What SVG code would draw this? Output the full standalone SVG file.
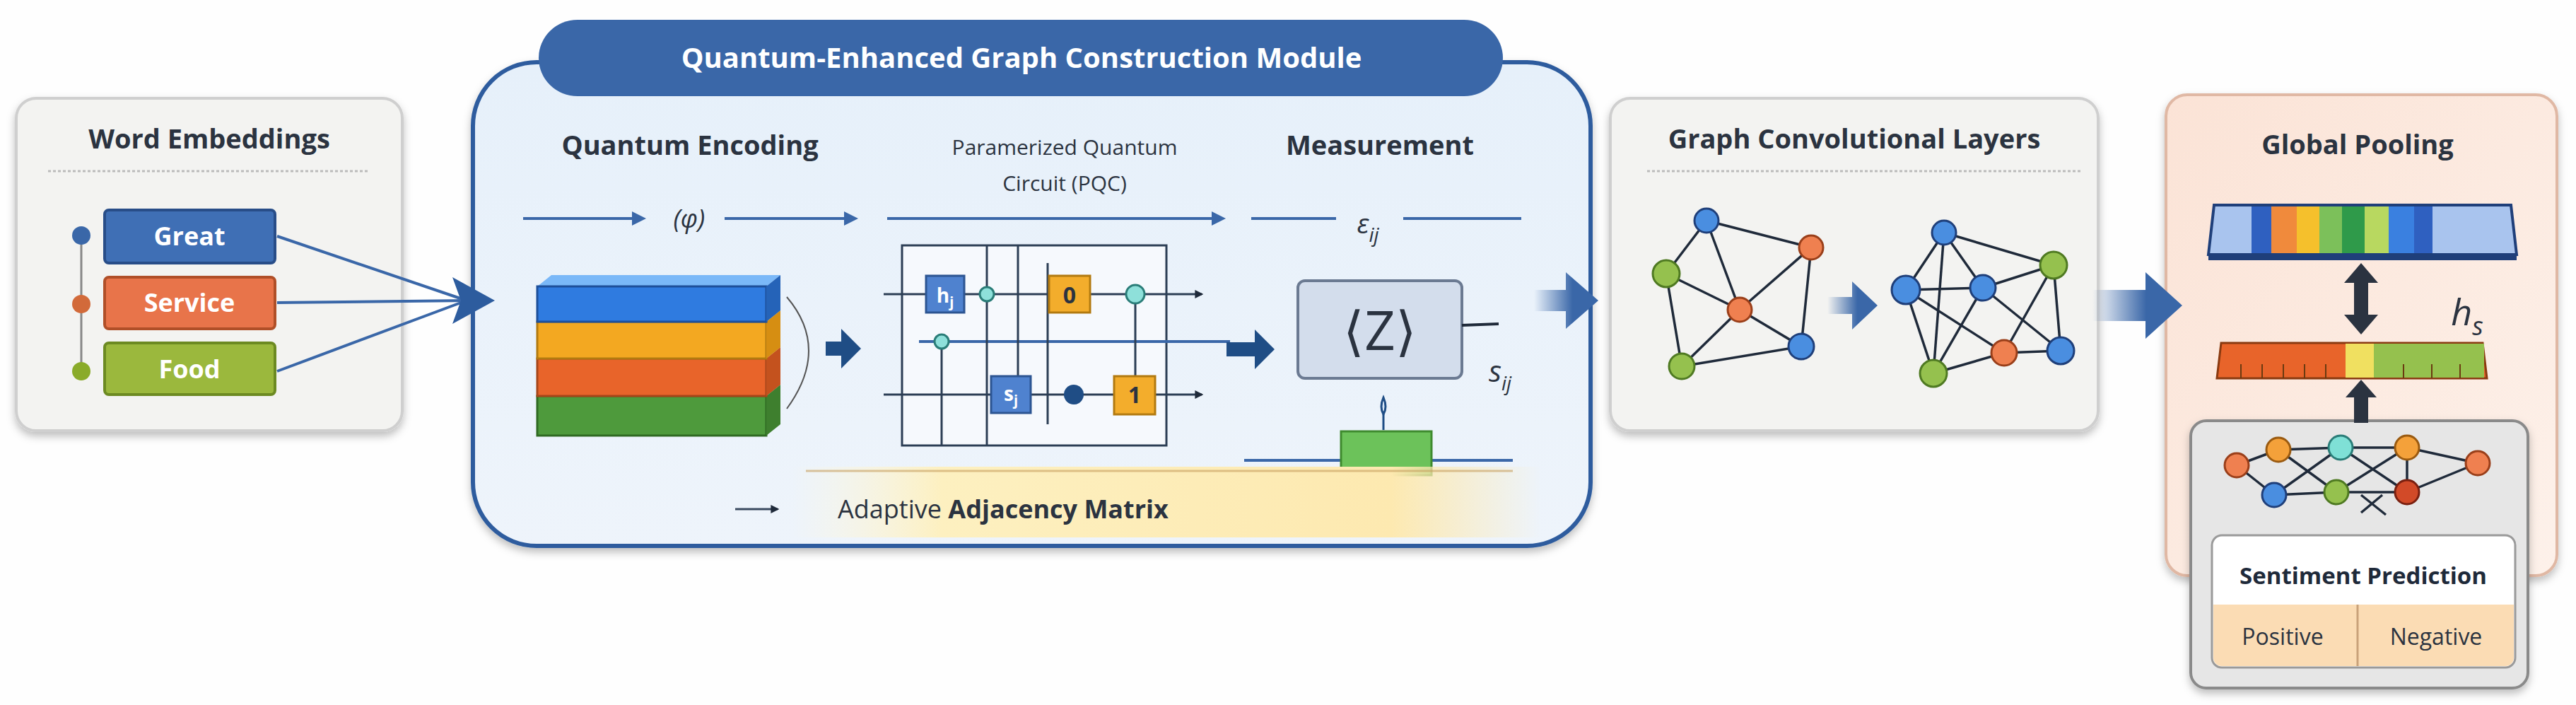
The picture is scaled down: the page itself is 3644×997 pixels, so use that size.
<svg xmlns="http://www.w3.org/2000/svg" width="3644" height="997" viewBox="0 0 3644 997">
<defs>
<style>
text{font-family:"Open Sans","Liberation Sans",sans-serif;}
.h{font-weight:bold;fill:#2b3340;font-size:38px;text-anchor:middle}
.w{font-weight:bold;fill:#fff;font-size:36px;text-anchor:middle}
.ln{stroke:#3a67a8;stroke-width:4;fill:none}
.wire{stroke:#2c3e55;stroke-width:3;fill:none}
.e{stroke:#1f2a3a;stroke-width:3.5}
.nb{fill:#4a8ee0;stroke:#1f3f7a;stroke-width:3}
.no{fill:#ef8050;stroke:#9a3f1a;stroke-width:3}
.ng{fill:#95c14e;stroke:#4f7a22;stroke-width:3}
.nt{fill:#7fe0d6;stroke:#2a7d78;stroke-width:3}
.nr{fill:#d24a28;stroke:#7a2010;stroke-width:3}
.nor{fill:#f4a13a;stroke:#9a5a10;stroke-width:3}
</style>
<marker id="ah" viewBox="0 0 10 10" refX="8" refY="5" markerWidth="5" markerHeight="5" orient="auto"><path d="M0,0L10,5L0,10z" fill="#3a67a8"/></marker>
<marker id="ahd" viewBox="0 0 10 10" refX="8" refY="5" markerWidth="4" markerHeight="4" orient="auto"><path d="M0,0L10,5L0,10z" fill="#1f2a3a"/></marker>
<linearGradient id="bigArrow" x1="0" x2="1"><stop offset="0" stop-color="#3a67a8" stop-opacity="0"/><stop offset="0.6" stop-color="#3a67a8"/></linearGradient>
<linearGradient id="modBg" x1="0" y1="0" x2="0" y2="1"><stop offset="0" stop-color="#e6f0fa"/><stop offset="1" stop-color="#eef4fb"/></linearGradient>
<linearGradient id="peach" x1="0" y1="0" x2="1" y2="1"><stop offset="0" stop-color="#fbe3d6"/><stop offset="1" stop-color="#fdf1ea"/></linearGradient>
<linearGradient id="yel" x1="0" x2="1"><stop offset="0" stop-color="#fff8dc" stop-opacity="0"/><stop offset="0.2" stop-color="#fdf0c0"/><stop offset="0.8" stop-color="#fde9b0"/><stop offset="1" stop-color="#fde9b0" stop-opacity="0"/></linearGradient>
<filter id="sh" x="-5%" y="-5%" width="110%" height="115%"><feDropShadow dx="0" dy="6" stdDeviation="6" flood-color="#000" flood-opacity="0.25"/></filter>
</defs>
<rect width="3644" height="997" fill="#fefefe"/>

<g id="word-embeddings">
<rect x="23" y="139" width="546" height="470" rx="28" fill="#f3f3f1" stroke="#cfcfcf" stroke-width="4" filter="url(#sh)"/>
<text class="h" x="296" y="210">Word Embeddings</text>
<line x1="68" y1="242" x2="522" y2="242" stroke="#bbb" stroke-width="3" stroke-dasharray="4 3"/>
<line x1="115" y1="333" x2="115" y2="525" stroke="#888" stroke-width="3"/>
<circle cx="115" cy="333" r="13" fill="#3a67a8"/>
<circle cx="115" cy="430" r="13" fill="#d26a3a"/>
<circle cx="115" cy="525" r="13" fill="#8aab2a"/>
<rect x="148" y="297" width="241" height="75" rx="6" fill="#3f6fb5" stroke="#284d88" stroke-width="4"/>
<text class="w" x="268" y="347">Great</text>
<rect x="148" y="392" width="241" height="73" rx="6" fill="#e8744a" stroke="#b04f28" stroke-width="4"/>
<text class="w" x="268" y="441">Service</text>
<rect x="148" y="485" width="241" height="73" rx="6" fill="#9bb83d" stroke="#6c8a22" stroke-width="4"/>
<text class="w" x="268" y="535">Food</text>
</g>

<g id="quantum-module">
<rect x="669" y="88" width="1581" height="684" rx="90" fill="url(#modBg)" stroke="#2d5c9e" stroke-width="6" filter="url(#sh)"/>
<rect x="762" y="28" width="1364" height="108" rx="55" fill="#3a67a8"/>
<text x="1445" y="96" font-size="40" font-weight="bold" fill="#fff" text-anchor="middle">Quantum-Enhanced Graph Construction Module</text>
<text class="h" x="976" y="219" font-size="36">Quantum Encoding</text>
<text x="1506" y="219" font-size="30" fill="#2b3340" text-anchor="middle">Paramerized Quantum</text>
<text x="1506" y="270" font-size="30" fill="#2b3340" text-anchor="middle">Circuit (PQC)</text>
<text class="h" x="1952" y="219" font-size="36">Measurement</text>
<line class="ln" x1="740" y1="309" x2="910" y2="309" marker-end="url(#ah)"/>
<text x="975" y="322" font-size="36" font-style="italic" fill="#2b3340" text-anchor="middle">(φ)</text>
<line class="ln" x1="1025" y1="309" x2="1210" y2="309" marker-end="url(#ah)"/>
<line class="ln" x1="1255" y1="309" x2="1730" y2="309" marker-end="url(#ah)"/>
<line class="ln" x1="1770" y1="309" x2="1890" y2="309"/>
<text x="1935" y="330" font-size="38" font-style="italic" fill="#2b3340" text-anchor="middle">ε<tspan font-size="28" dy="12">ij</tspan></text>
<line class="ln" x1="1985" y1="309" x2="2152" y2="309"/>
<g stroke-width="3">
<path d="M760,560l20,-16h324l-20,16z" fill="#8ccf6a"/><rect x="760" y="560" width="324" height="56" fill="#4e9a3c" stroke="#2f6a22"/><path d="M1084,560l20,-16v56l-20,16z" fill="#3e7f2e"/>
<path d="M760,507l20,-16h324l-20,16z" fill="#f7a070"/><rect x="760" y="507" width="324" height="53" fill="#e8642a" stroke="#a6461a"/><path d="M1084,507l20,-16v53l-20,16z" fill="#c4521e"/>
<path d="M760,455l20,-16h324l-20,16z" fill="#ffd070"/><rect x="760" y="455" width="324" height="52" fill="#f3a821" stroke="#b27a10"/><path d="M1084,455l20,-16v52l-20,16z" fill="#d68e12"/>
<path d="M760,405l20,-16h324l-20,16z" fill="#7ab8f8"/><rect x="760" y="405" width="324" height="50" fill="#2f7be0" stroke="#1d4f9a"/><path d="M1084,405l20,-16v50l-20,16z" fill="#2563b8"/>
</g>
<path d="M1113,420 Q1175,493 1113,578" fill="none" stroke="#555" stroke-width="2"/>
<rect x="1276" y="347" width="374" height="283" fill="#f6f9fd" stroke="#2c3e55" stroke-width="3"/>
<line class="wire" x1="1250" y1="416" x2="1700" y2="416" marker-end="url(#ahd)"/>
<line x1="1300" y1="483" x2="1740" y2="483" stroke="#3a67a8" stroke-width="4"/>
<line class="wire" x1="1250" y1="558" x2="1700" y2="558" marker-end="url(#ahd)"/>
<line class="wire" x1="1332" y1="483" x2="1332" y2="630"/>
<line class="wire" x1="1396" y1="347" x2="1396" y2="630"/>
<line class="wire" x1="1440" y1="347" x2="1440" y2="548"/>
<line class="wire" x1="1482" y1="372" x2="1482" y2="600"/>
<line class="wire" x1="1606" y1="416" x2="1606" y2="540"/>
<rect x="1310" y="390" width="54" height="52" fill="#4f82cf" stroke="#2c5592" stroke-width="3"/>
<text x="1337" y="428" font-size="28" fill="#fff" font-weight="bold" text-anchor="middle">h<tspan font-size="20" dy="6">j</tspan></text>
<circle cx="1396" cy="416" r="10" fill="#8ee0da" stroke="#2a7d78" stroke-width="3"/>
<circle cx="1332" cy="483" r="10" fill="#8ee0da" stroke="#2a7d78" stroke-width="3"/>
<circle cx="1606" cy="416" r="13" fill="#8ee0da" stroke="#2a7d78" stroke-width="3"/>
<rect x="1484" y="390" width="58" height="52" fill="#f3ad2c" stroke="#b27a10" stroke-width="3"/>
<text x="1513" y="429" font-size="32" font-weight="bold" fill="#2b3340" text-anchor="middle">0</text>
<rect x="1402" y="532" width="56" height="52" fill="#4f82cf" stroke="#2c5592" stroke-width="3"/>
<text x="1430" y="567" font-size="28" fill="#fff" font-weight="bold" text-anchor="middle">s<tspan font-size="20" dy="6">j</tspan></text>
<circle cx="1519" cy="558" r="14" fill="#1f4d85"/>
<rect x="1576" y="532" width="58" height="54" fill="#f3ad2c" stroke="#b27a10" stroke-width="3"/>
<text x="1605" y="570" font-size="32" font-weight="bold" fill="#2b3340" text-anchor="middle">1</text>
<rect x="1836" y="397" width="232" height="138" rx="10" fill="#d3ddec" stroke="#6b7a92" stroke-width="4"/>
<text x="1952" y="495" font-size="76" fill="#2b3340" text-anchor="middle">⟨Z⟩</text>
<line x1="2068" y1="460" x2="2120" y2="458" stroke="#1f2a3a" stroke-width="4"/>
<text x="2122" y="540" font-size="42" font-style="italic" fill="#2b3340" text-anchor="middle">s<tspan font-size="28" dy="12">ij</tspan></text>
<path d="M1957,562 q-6,14 0,24 q6,-10 0,-24z" fill="#d8e6f6" stroke="#1f4d85" stroke-width="3"/>
<line x1="1957" y1="586" x2="1957" y2="608" stroke="#1f4d85" stroke-width="3"/>
<line x1="1760" y1="651" x2="2140" y2="651" stroke="#3a67a8" stroke-width="4"/>
<rect x="1897" y="610" width="128" height="62" fill="#6cc25a" stroke="#3e8a2e" stroke-width="3"/>
<rect x="1120" y="660" width="1060" height="100" fill="url(#yel)"/>
<line x1="1140" y1="666" x2="2140" y2="666" stroke="#c8a060" stroke-width="3" opacity="0.6"/>
<line x1="1040" y1="720" x2="1100" y2="720" stroke="#3a4a60" stroke-width="3" marker-end="url(#ahd)"/>
<text x="1185" y="733" font-size="36" fill="#2b3340">Adaptive <tspan font-weight="bold">Adjacency Matrix</tspan></text>
</g>

<g id="graph-conv-layers">
<rect x="2278" y="139" width="690" height="470" rx="28" fill="#f3f3f1" stroke="#cfcfcf" stroke-width="4" filter="url(#sh)"/>
<text class="h" x="2623" y="210">Graph Convolutional Layers</text>
<line x1="2330" y1="242" x2="2946" y2="242" stroke="#bbb" stroke-width="3" stroke-dasharray="4 3"/>
<g class="e">
<line x1="2414" y1="312" x2="2562" y2="350"/><line x1="2414" y1="312" x2="2357" y2="387"/><line x1="2414" y1="312" x2="2461" y2="438"/>
<line x1="2562" y1="350" x2="2461" y2="438"/><line x1="2562" y1="350" x2="2548" y2="490"/><line x1="2357" y1="387" x2="2461" y2="438"/>
<line x1="2357" y1="387" x2="2379" y2="518"/><line x1="2461" y1="438" x2="2548" y2="490"/><line x1="2461" y1="438" x2="2379" y2="518"/><line x1="2379" y1="518" x2="2548" y2="490"/>
</g>
<circle class="nb" cx="2414" cy="312" r="17"/><circle class="no" cx="2562" cy="350" r="17"/><circle class="ng" cx="2357" cy="387" r="19"/>
<circle class="no" cx="2461" cy="438" r="17"/><circle class="nb" cx="2548" cy="490" r="18"/><circle class="ng" cx="2379" cy="518" r="18"/>
<g class="e">
<line x1="2750" y1="329" x2="2905" y2="375"/><line x1="2750" y1="329" x2="2696" y2="410"/><line x1="2750" y1="329" x2="2805" y2="407"/><line x1="2750" y1="329" x2="2735" y2="528"/>
<line x1="2905" y1="375" x2="2805" y2="407"/><line x1="2905" y1="375" x2="2835" y2="499"/><line x1="2905" y1="375" x2="2915" y2="496"/>
<line x1="2696" y1="410" x2="2805" y2="407"/><line x1="2696" y1="410" x2="2835" y2="499"/><line x1="2696" y1="410" x2="2735" y2="528"/>
<line x1="2805" y1="407" x2="2735" y2="528"/><line x1="2805" y1="407" x2="2915" y2="496"/><line x1="2835" y1="499" x2="2915" y2="496"/><line x1="2735" y1="528" x2="2835" y2="499"/>
</g>
<circle class="nb" cx="2750" cy="329" r="17"/><circle class="ng" cx="2905" cy="375" r="19"/><circle class="nb" cx="2696" cy="410" r="20"/>
<circle class="nb" cx="2805" cy="407" r="18"/><circle class="no" cx="2835" cy="499" r="18"/><circle class="nb" cx="2915" cy="496" r="19"/><circle class="ng" cx="2735" cy="528" r="19"/>
</g>

<g id="global-pooling">
<rect x="3064" y="134" width="553" height="680" rx="30" fill="url(#peach)" stroke="#e0b8a4" stroke-width="4" filter="url(#sh)"/>
<text class="h" x="3335" y="218">Global Pooling</text>
<path d="M3132,290h420l8,70h-436z" fill="#a9c4ee" stroke="#1f3f7a" stroke-width="4"/>
<rect x="3185" y="292" width="28" height="66" fill="#2f60c0"/><rect x="3213" y="292" width="36" height="66" fill="#f08a3c"/>
<rect x="3249" y="292" width="32" height="66" fill="#f5c02c"/><rect x="3281" y="292" width="32" height="66" fill="#7cc05a"/>
<rect x="3313" y="292" width="32" height="66" fill="#2f9a4a"/><rect x="3345" y="292" width="34" height="66" fill="#b8d860"/>
<rect x="3379" y="292" width="36" height="66" fill="#3a80e0"/><rect x="3415" y="292" width="26" height="66" fill="#2f60c0"/>
<rect x="3124" y="358" width="436" height="10" fill="#1f3f7a"/>
<text x="3490" y="460" font-size="52" font-style="italic" fill="#2b3340" text-anchor="middle">h<tspan font-size="36" dy="14">s</tspan></text>
<path d="M3142,485h370l6,50h-382z" fill="#e8642a" stroke="#8a3a10" stroke-width="3"/>
<rect x="3318" y="486" width="40" height="48" fill="#f0e060"/><rect x="3358" y="486" width="156" height="48" fill="#95c14e"/>
<g stroke="#6a3a10" stroke-width="2"><line x1="3170" y1="515" x2="3170" y2="535"/><line x1="3200" y1="515" x2="3200" y2="535"/><line x1="3230" y1="515" x2="3230" y2="535"/><line x1="3260" y1="515" x2="3260" y2="535"/><line x1="3290" y1="515" x2="3290" y2="535"/><line x1="3400" y1="515" x2="3400" y2="535"/><line x1="3440" y1="515" x2="3440" y2="535"/><line x1="3480" y1="515" x2="3480" y2="535"/></g>
<rect x="3099" y="595" width="477" height="378" rx="22" fill="#e6e6e6" stroke="#8a8a8a" stroke-width="4" filter="url(#sh)"/>
<g class="e" stroke-width="3">
<line x1="3164" y1="658" x2="3223" y2="636"/><line x1="3223" y1="636" x2="3311" y2="633"/><line x1="3311" y1="633" x2="3405" y2="633"/><line x1="3405" y1="633" x2="3505" y2="655"/>
<line x1="3164" y1="658" x2="3217" y2="700"/><line x1="3223" y1="636" x2="3305" y2="696"/><line x1="3311" y1="633" x2="3217" y2="700"/><line x1="3311" y1="633" x2="3405" y2="696"/>
<line x1="3405" y1="633" x2="3305" y2="696"/><line x1="3405" y1="633" x2="3405" y2="696"/><line x1="3217" y1="700" x2="3305" y2="696"/><line x1="3305" y1="696" x2="3405" y2="696"/><line x1="3405" y1="696" x2="3505" y2="655"/>
<line x1="3340" y1="725" x2="3370" y2="700"/><line x1="3340" y1="700" x2="3375" y2="728"/>
</g>
<circle class="no" cx="3164" cy="658" r="17"/><circle class="nor" cx="3223" cy="636" r="17"/><circle class="nt" cx="3311" cy="633" r="17"/>
<circle class="nor" cx="3405" cy="633" r="17"/><circle class="no" cx="3505" cy="655" r="17"/><circle class="nb" cx="3217" cy="700" r="17"/>
<circle class="ng" cx="3305" cy="696" r="17"/><circle class="nr" cx="3405" cy="696" r="17"/>
<rect x="3129" y="757" width="429" height="187" rx="14" fill="#fff" stroke="#9a9a9a" stroke-width="3"/>
<path d="M3131,855h425v75a12,12 0 0 1 -12,12h-401a12,12 0 0 1 -12,-12z" fill="#fbdcb4"/>
<line x1="3335" y1="855" x2="3335" y2="942" stroke="#c9a27a" stroke-width="3"/>
<text x="3343" y="826" font-size="33" font-weight="bold" fill="#1f2a3a" text-anchor="middle">Sentiment Prediction</text>
<text x="3229" y="912" font-size="32" fill="#2b3340" text-anchor="middle">Positive</text>
<text x="3446" y="912" font-size="32" fill="#2b3340" text-anchor="middle">Negative</text>
</g>

<g id="connectors">
<line class="ln" x1="392" y1="334" x2="660" y2="425" stroke-width="5"/>
<line class="ln" x1="392" y1="428" x2="660" y2="425" stroke-width="5"/>
<line class="ln" x1="392" y1="525" x2="660" y2="425" stroke-width="5"/>
<path d="M640,392L700,425L640,458L652,425z" fill="#2d5c9e"/>
<path d="M2170,410h45v-25l46,40l-46,40v-25h-45z" fill="url(#bigArrow)"/>
<path d="M2585,420h35v-22l36,34l-36,34v-22h-35z" fill="url(#bigArrow)"/>
<path d="M2960,410h75v-25l52,47l-52,47v-25h-75z" fill="url(#bigArrow)"/>
<path d="M1168,483h22v-18l28,28l-28,28v-18h-22z" fill="#1f4d85"/>
<path d="M1735,484h40v-18l28,28l-28,28v-18h-40z" fill="#1f4d85"/>
<path d="M3340,372l-24,28h14v45h-14l24,28l24,-28h-14v-45h14z" fill="#2b3340"/>
<path d="M3340,537l-22,25h12v36h20v-36h12z" fill="#2b3340"/>
</g>
</svg>
